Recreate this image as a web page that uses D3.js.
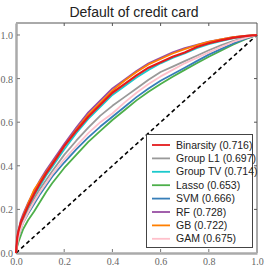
<!DOCTYPE html>
<html>
<head>
<meta charset="utf-8">
<script src="https://cdn.jsdelivr.net/npm/d3@7"></script>
<style>
  body { margin: 0; background: #fff; }
  svg { display: block; }
</style>
</head>
<body>
<div id="chart"></div>
<script>
// ROC curves, values (false positive rate grid)
var fpr = [0, .005, .01, .02, .03, .05, .075, .1, .125, .15, .2, .25, .3, .35, .4, .45, .5, .55, .6, .65, .7, .75, .8, .85, .9, .95, 1];

var names = ["Binarsity (0.716)", "Group L1 (0.697)", "Group TV (0.714)", "Lasso (0.653)",
             "SVM (0.666)", "RF (0.728)", "GB (0.722)", "GAM (0.675)"];
var colors = ["#e41a1c", "#999999", "#1cc9cc", "#4daf4a", "#377eb8", "#984ea3", "#ff7f00", "#ffc0cb"];

var tprBinarsity = [0, .07, .10, .14, .165, .215, .27, .32, .365, .405, .49, .56, .625, .68, .735, .775, .815, .85, .875, .90, .92, .945, .962, .975, .987, .995, 1];
var tprGroupL1   = [0, .05, .08, .12, .15, .20, .25, .295, .335, .375, .45, .515, .575, .63, .675, .715, .755, .795, .83, .855, .88, .905, .93, .952, .972, .988, 1];
var tprGroupTV   = [0, .06, .09, .13, .16, .21, .265, .31, .355, .395, .475, .55, .615, .67, .725, .765, .805, .84, .87, .895, .915, .94, .958, .972, .985, .994, 1];
var tprLasso     = [0, .03, .05, .08, .11, .15, .19, .235, .28, .32, .39, .45, .51, .56, .61, .655, .70, .74, .775, .808, .84, .87, .90, .928, .955, .98, 1];
var tprSVM       = [0, .04, .07, .11, .14, .18, .225, .27, .31, .35, .415, .475, .53, .58, .625, .67, .715, .755, .79, .82, .85, .88, .91, .935, .96, .982, 1];
var tprRF        = [0, .06, .10, .15, .18, .23, .285, .335, .38, .42, .50, .575, .645, .70, .755, .795, .835, .87, .895, .92, .94, .955, .97, .98, .99, .996, 1];
var tprGB        = [0, .05, .09, .14, .17, .225, .29, .33, .37, .41, .49, .565, .635, .69, .745, .79, .83, .865, .89, .915, .935, .953, .968, .98, .99, .996, 1];
var tprGAM       = [0, .04, .07, .11, .14, .185, .235, .28, .32, .36, .43, .49, .55, .60, .64, .69, .735, .775, .81, .84, .87, .895, .92, .945, .968, .986, 1];

var series = [tprBinarsity, tprGroupL1, tprGroupTV, tprLasso, tprSVM, tprRF, tprGB, tprGAM];

var xTicks = [0, 0.2, 0.4, 0.6, 0.8, 1.0];
var yTicks = [0, 0.2, 0.4, 0.6, 0.8, 1.0];

var width = 266, height = 267;
var margin = {top: 23, right: 9, bottom: 14, left: 16};

var svg = d3.select("#chart").append("svg")
  .attr("width", width)
  .attr("height", height);

// title
svg.append("text")
  .attr("x", 134)
  .attr("y", 17)
  .attr("text-anchor", "middle")
  .style("font-family", "'Liberation Sans', Arial, sans-serif")
  .style("font-size", "14px")
  .style("fill", "#222")
  .text("Default of credit card");

var x = d3.scaleLinear().domain([0, 1]).range([margin.left, width - margin.right]);
var y = d3.scaleLinear().domain([0, 1.055]).range([height - margin.bottom, margin.top]);

// thin frame on top and right
svg.append("line")
  .attr("x1", x(0)).attr("x2", x(1)).attr("y1", y(1.055)).attr("y2", y(1.055))
  .attr("stroke", "#555").attr("stroke-width", 1);
svg.append("line")
  .attr("x1", x(1)).attr("x2", x(1)).attr("y1", y(0)).attr("y2", y(1.055))
  .attr("stroke", "#555").attr("stroke-width", 1);

// inner ticks top and right
svg.append("g").selectAll("line").data(xTicks.slice(1, 5)).enter().append("line")
  .attr("x1", d => x(d)).attr("x2", d => x(d))
  .attr("y1", y(1.055)).attr("y2", y(1.055) + 3)
  .attr("stroke", "#555");
svg.append("g").selectAll("line").data(yTicks.slice(1, 5)).enter().append("line")
  .attr("x1", x(1)).attr("x2", x(1) - 3)
  .attr("y1", d => y(d)).attr("y2", d => y(d))
  .attr("stroke", "#555");

// bottom axis
var xAxis = svg.append("g")
  .attr("transform", "translate(0," + y(0) + ")")
  .call(d3.axisBottom(x).tickValues(xTicks).tickFormat(d3.format(".1f")).tickSize(0).tickPadding(5));
// left axis
var yAxis = svg.append("g")
  .attr("transform", "translate(" + x(0) + ",0)")
  .call(d3.axisLeft(y).tickValues(yTicks).tickFormat(d3.format(".1f")).tickSize(0).tickPadding(3));

[xAxis, yAxis].forEach(function(ax) {
  ax.select(".domain").attr("stroke", "#aaa").attr("stroke-width", 2.5);
  ax.selectAll("text")
    .style("font-family", "'Liberation Serif', 'DejaVu Serif', serif")
    .style("font-size", "10px")
    .style("fill", "#666");
});
yAxis.selectAll("text").attr("dy", "0.35em");

// small inward ticks on the spines
svg.append("g").selectAll("line").data(xTicks.slice(1, 5)).enter().append("line")
  .attr("x1", d => x(d)).attr("x2", d => x(d))
  .attr("y1", y(0) - 1).attr("y2", y(0) - 4)
  .attr("stroke", "#777");
svg.append("g").selectAll("line").data(yTicks.slice(1)).enter().append("line")
  .attr("x1", x(0) + 1).attr("x2", x(0) + 4)
  .attr("y1", d => y(d)).attr("y2", d => y(d))
  .attr("stroke", "#777");

var line = d3.line()
  .x(function(d, i) { return x(fpr[i]); })
  .y(function(d) { return y(d); });

// chance diagonal
svg.append("path")
  .datum([0, 1])
  .attr("d", d3.line().x(d => x(d)).y(d => y(d)))
  .attr("fill", "none")
  .attr("stroke", "#000")
  .attr("stroke-width", 1.6)
  .attr("stroke-dasharray", "4,3");

// curves, Binarsity on top
var order = [1, 2, 3, 4, 5, 6, 7, 0];
order.forEach(function(k) {
  svg.append("path")
    .datum(series[k])
    .attr("d", line)
    .attr("fill", "none")
    .attr("stroke", colors[k])
    .attr("stroke-width", k == 0 ? 2.2 : 1.8)
    .attr("stroke-linejoin", "round");
});

// legend
var lg = svg.append("g");
lg.append("rect")
  .attr("x", 146.5).attr("y", 134.5)
  .attr("width", 106).attr("height", 113)
  .attr("fill", "#fff")
  .attr("stroke", "#444")
  .attr("stroke-width", 1);

names.forEach(function(name, i) {
  var cy = 145 + i * 13.4;
  lg.append("line")
    .attr("x1", 152).attr("x2", 170)
    .attr("y1", cy).attr("y2", cy)
    .attr("stroke", colors[i])
    .attr("stroke-width", 1.8);
  lg.append("text")
    .attr("x", 176).attr("y", cy)
    .attr("dy", "0.35em")
    .style("font-family", "'Liberation Sans', Arial, sans-serif")
    .style("font-size", "10.5px")
    .style("fill", "#222")
    .text(name);
});
</script>
</body>
</html>
